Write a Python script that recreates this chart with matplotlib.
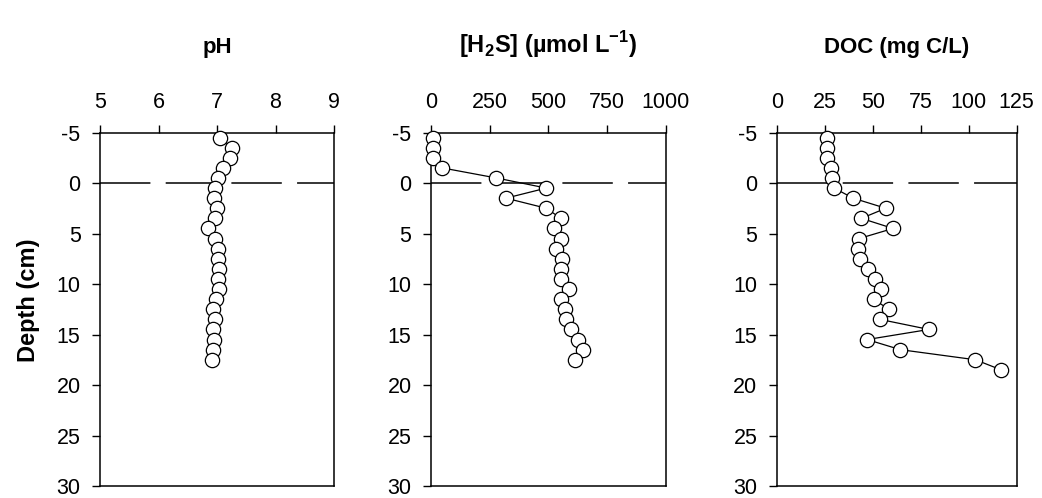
import matplotlib.pyplot as plt
import matplotlib as mpl

plt.rcParams['font.family'] = ['Liberation Sans', 'DejaVu Sans']
plt.rcParams['mathtext.fontset'] = 'custom'
plt.rcParams['mathtext.rm'] = 'Liberation Sans'
plt.rcParams['mathtext.bf'] = 'Liberation Sans:bold'
plt.rcParams['axes.unicode_minus'] = False

# Depth of each sample (cm), shared by pH and H2S profiles
depth = [-4.5, -3.5, -2.5, -1.5, -0.5, 0.5, 1.5, 2.5, 3.5, 4.5, 5.5, 6.5,
         7.5, 8.5, 9.5, 10.5, 11.5, 12.5, 13.5, 14.5, 15.5, 16.5, 17.5]
depth_doc = depth + [18.5]

ph = [7.05, 7.26, 7.22, 7.11, 7.01, 6.97, 6.95, 7.0, 6.97, 6.85, 6.97, 7.02,
      7.01, 7.03, 7.01, 7.03, 6.99, 6.93, 6.97, 6.93, 6.94, 6.93, 6.91]
h2s = [10, 10, 10, 47, 278, 491, 319, 491, 553, 525, 553, 531,
       557, 553, 555, 586, 553, 572, 576, 597, 624, 647, 614]
doc = [26.0, 26.0, 26.0, 28.2, 28.9, 29.9, 39.8, 56.8, 44.1, 60.6, 42.9, 42.6,
       43.3, 47.4, 51.4, 54.5, 50.5, 58.3, 53.7, 79.3, 47.1, 64.4, 103.5, 116.9]

titles = ['pH', r'[H$_\mathbf{2}$S] (µmol L$^\mathbf{-1}$)', 'DOC (mg C/L)']
title_sizes = [16, 17, 16]
xlims = [(5, 9), (0, 1000), (0, 125)]
xticks = [[5, 6, 7, 8, 9], [0, 250, 500, 750, 1000], [0, 25, 50, 75, 100, 125]]
ylim = (30, -5)
yticks = [-5, 0, 5, 10, 15, 20, 25, 30]

fig = plt.figure(figsize=(10.42, 4.98), dpi=100)
boxes = [(0.0960, 0.0241, 0.2246, 0.7098),
         (0.4136, 0.0241, 0.2255, 0.7098),
         (0.7454, 0.0241, 0.2303, 0.7098)]
series = [(ph, depth), (h2s, depth), (doc, depth_doc)]

for box, (xv, yv), title, tsize, xl, xt in zip(boxes, series, titles,
                                               title_sizes, xlims, xticks):
    ax = fig.add_axes(box)
    ax.axhline(0, color='black', lw=1.1, linestyle=(0, (33, 10)), zorder=1)
    ax.plot(xv, yv, color='black', lw=0.9, marker='o', markersize=10.3,
            markerfacecolor='white', markeredgecolor='black',
            markeredgewidth=0.9, zorder=3, clip_on=False)
    ax.set_xlim(xl)
    ax.set_ylim(ylim)
    ax.set_xticks(xt)
    ax.set_yticks(yticks)
    ax.xaxis.tick_top()
    ax.tick_params(axis='both', direction='out', length=6, width=1,
                   labelsize=15.5, pad=8)
    for s in ax.spines.values():
        s.set_linewidth(1.1)
    ax.text(0.5, 1.224, title, transform=ax.transAxes, ha='center',
            va='baseline', fontsize=tsize, fontweight='bold')

fig.text(28 / 1042, 1 - 300 / 498, 'Depth (cm)', rotation=90, ha='center',
         va='center', fontsize=17, fontweight='bold')

fig.savefig('out.png', dpi=100)
